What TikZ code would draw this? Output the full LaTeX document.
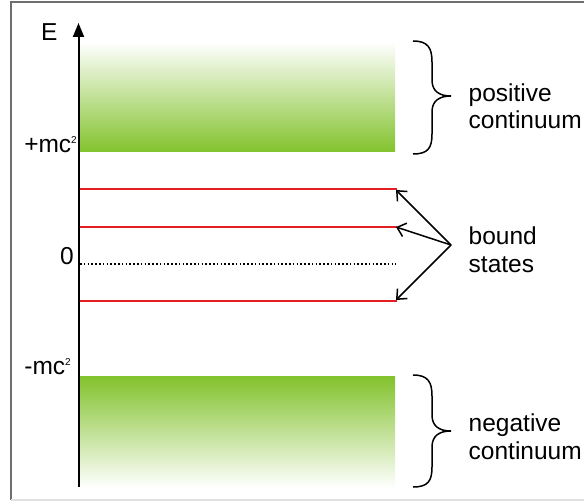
\documentclass[tikz,border=0pt]{standalone}
\usepackage{fontspec}
\setmainfont{Liberation Sans}
\usetikzlibrary{arrows.meta}
\definecolor{contgreen}{RGB}{130,194,44}
\definecolor{levelred}{RGB}{225,30,36}
\definecolor{framegray}{RGB}{110,110,110}
\definecolor{framelight}{RGB}{225,225,225}
\tikzset{
  lbl/.style={inner sep=0pt, font=\fontsize{24.5bp}{28bp}\selectfont},
  level/.style={draw=levelred, line width=2bp},
  pointer/.style={draw=black, line width=1.5bp, -{Straight Barb[length=8bp,width=14bp]}},
  bracestyle/.style={draw=black, line width=1.5bp}
}
\newcommand{\smalltwo}{\raisebox{9bp}{\fontsize{10bp}{10bp}\selectfont 2}}
\begin{document}
\begin{tikzpicture}[x=1bp,y=-1bp]
\useasboundingbox (0,0) rectangle (584,502);
% frame
\draw[framegray, line width=1.5bp] (11,500) -- (11,2) -- (590,2);
\draw[framelight, line width=1.5bp] (11,500) -- (590,500);
% continua
\shade[top color=white, bottom color=contgreen] (80,42) rectangle (395,152);
\shade[top color=contgreen, bottom color=white] (80,376) rectangle (395,488);
% levels
\coordinate (l1a) at (79,189); \coordinate (l1b) at (397,189);
\coordinate (l2a) at (79,227); \coordinate (l2b) at (397,227);
\coordinate (l3a) at (79,301); \coordinate (l3b) at (397,301);
\coordinate (z0a) at (80,264); \coordinate (z0b) at (396,264);
\draw[level] (l1a) -- (l1b);
\draw[level] (l2a) -- (l2b);
\draw[level] (l3a) -- (l3b);
\draw[black, line width=1.5bp, dash pattern=on 1.6bp off 2.2bp] (z0a) -- (z0b);
% axis
\coordinate (axb) at (78.5,487);
\coordinate (axt) at (78.5,23);
\draw[black, line width=2bp, -{Triangle[length=14bp,width=11bp]}] (axb) -- (axt);
% labels on axis
\node[lbl, anchor=base west] (E) at (41,41) {E};
\node[lbl, anchor=base east] (pmc) at (77,153) {+mc\smalltwo};
\node[lbl, anchor=base east] (zero) at (74,264) {0};
\node[lbl, anchor=base east] (mmc) at (71,374) {-mc\smalltwo};
% bound states arrows
\coordinate (bs) at (451,245);
\coordinate (t1) at (396,190);
\coordinate (t2) at (396,227);
\coordinate (t3) at (396,300);
\draw[pointer] (bs) -- (t1);
\draw[pointer] (bs) -- (t2);
\draw[pointer] (bs) -- (t3);
\node[lbl, anchor=base west] (bound) at (468.5,244) {bound};
\node[lbl, anchor=base west] (states) at (468.5,272) {states};
% braces
\draw[bracestyle] (413,41) .. controls (428,41) and (432,48) .. (432,62) -- (432,80)
  .. controls (432,91) and (439,96) .. (451,96)
  .. controls (439,96) and (432,101) .. (432,112) -- (432,134)
  .. controls (432,148) and (428,154) .. (413,154);
\draw[bracestyle] (413,375) .. controls (428,375) and (432,382) .. (432,396) -- (432,415)
  .. controls (432,426) and (439,431) .. (451,431)
  .. controls (439,431) and (432,436) .. (432,447) -- (432,467)
  .. controls (432,481) and (428,487) .. (413,487);
\node[lbl, anchor=base west] (pos) at (468.5,102) {positive};
\node[lbl, anchor=base west] (posc) at (468.5,129) {continuum};
\node[lbl, anchor=base west] (neg) at (468.5,431) {negative};
\node[lbl, anchor=base west] (negc) at (468.5,459) {continuum};
\end{tikzpicture}
\end{document}
